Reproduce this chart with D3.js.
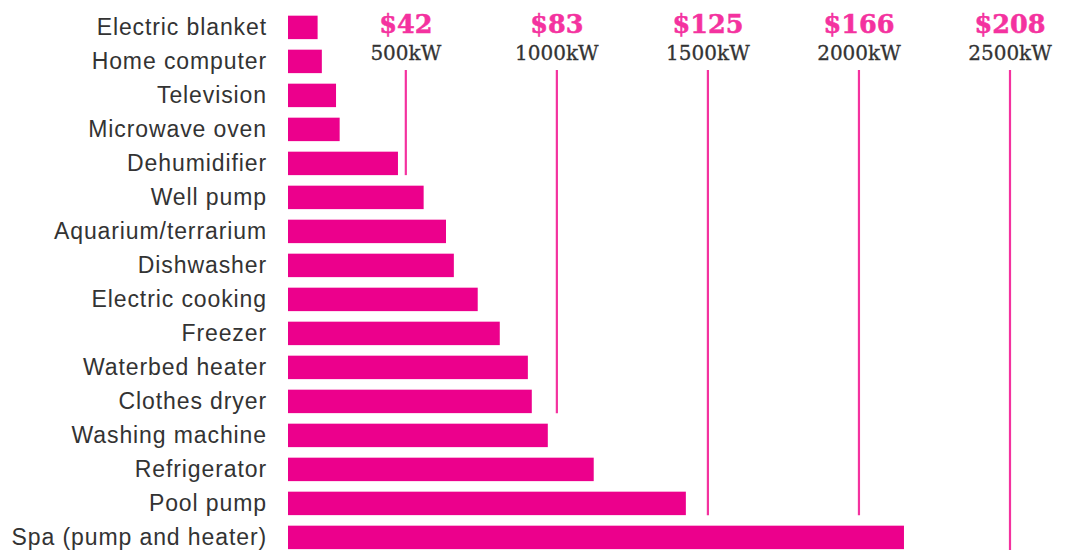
<!DOCTYPE html>
<html>
<head>
<meta charset="utf-8">
<script src="https://cdn.jsdelivr.net/npm/d3@7"></script>
<style>
  body { margin: 0; background: #fff; }
  svg { display: block; }
</style>
</head>
<body>
<div id="chart"></div>
<script>
// appliances, top to bottom
var appliances = [
  "Electric blanket",
  "Home computer",
  "Television",
  "Microwave oven",
  "Dehumidifier",
  "Well pump",
  "Aquarium/terrarium",
  "Dishwasher",
  "Electric cooking",
  "Freezer",
  "Waterbed heater",
  "Clothes dryer",
  "Washing machine",
  "Refrigerator",
  "Pool pump",
  "Spa (pump and heater)"
];

// yearly use in kW, read against the gridlines
var usage = [208, 222, 269, 281, 474, 559, 633, 659, 738, 811, 904, 917, 970, 1122, 1427, 2149];

// gridlines
var tickValues = [500, 1000, 1500, 2000, 2500];
var tickCosts = ["$42", "$83", "$125", "$166", "$208"];
// each gridline stops above this row (null = runs to the bottom)
var tickStopAbove = ["Well pump", "Washing machine", "Spa (pump and heater)", "Spa (pump and heater)", null];

var width = 1074,
    height = 550;

var pink = "#ec008c",
    linePink = "#f4329f",
    textGrey = "#333";

var svg = d3.select("#chart")
  .append("svg")
  .attr("width", width)
  .attr("height", height);

// x scale starts at the bars' left edge
var x = d3.scaleLinear()
  .domain([110, 2500])
  .range([288, 1010]);

var y = d3.scaleBand()
  .domain(appliances)
  .range([10.4, 554.4])
  .paddingInner(0.31)
  .paddingOuter(0.155);

var data = appliances.map(function(d, i) { return { name: d, value: usage[i] }; });

// gridlines
var ticks = tickValues.map(function(d, i) {
  return { value: d, cost: tickCosts[i], stop: tickStopAbove[i] };
});

var gap = y.step() * y.paddingInner();

svg.selectAll(".grid")
  .data(ticks)
  .enter()
  .append("line")
  .attr("class", "grid")
  .attr("x1", function(d) { return x(d.value); })
  .attr("x2", function(d) { return x(d.value); })
  .attr("y1", 70)
  .attr("y2", function(d) { return d.stop ? y(d.stop) - gap : height; })
  .attr("stroke", linePink)
  .attr("stroke-width", 2.2);

svg.selectAll(".cost")
  .data(ticks)
  .enter()
  .append("text")
  .attr("class", "cost")
  .attr("x", function(d) { return x(d.value); })
  .attr("y", 33)
  .attr("text-anchor", "middle")
  .style("font-family", "'DejaVu Serif', serif")
  .style("font-weight", "bold")
  .style("font-size", "25.5px")
  .style("fill", linePink)
  .style("stroke", linePink)
  .style("stroke-width", 0.5)
  .text(function(d) { return d.cost; });

svg.selectAll(".kw")
  .data(ticks)
  .enter()
  .append("text")
  .attr("class", "kw")
  .attr("x", function(d) { return x(d.value); })
  .attr("y", 60)
  .attr("text-anchor", "middle")
  .style("font-family", "'DejaVu Serif', serif")
  .style("font-size", "20px")
  .style("fill", textGrey)
  .style("stroke", textGrey)
  .style("stroke-width", 0.3)
  .text(function(d) { return d.value + "kW"; });

// bars
svg.selectAll(".bar")
  .data(data)
  .enter()
  .append("rect")
  .attr("class", "bar")
  .attr("x", x.range()[0])
  .attr("y", function(d) { return y(d.name); })
  .attr("width", function(d) { return x(d.value) - x.range()[0]; })
  .attr("height", y.bandwidth())
  .attr("fill", pink);

// category labels
svg.selectAll(".label")
  .data(data)
  .enter()
  .append("text")
  .attr("class", "label")
  .attr("x", 267)
  .attr("y", function(d) { return y(d.name) + y.bandwidth() / 2; })
  .attr("dy", "0.35em")
  .attr("text-anchor", "end")
  .style("font-family", "'Liberation Sans', Arial, sans-serif")
  .style("font-size", "23px")
  .style("letter-spacing", "0.9px")
  .style("fill", textGrey)
  .text(function(d) { return d.name; });
</script>
</body>
</html>
